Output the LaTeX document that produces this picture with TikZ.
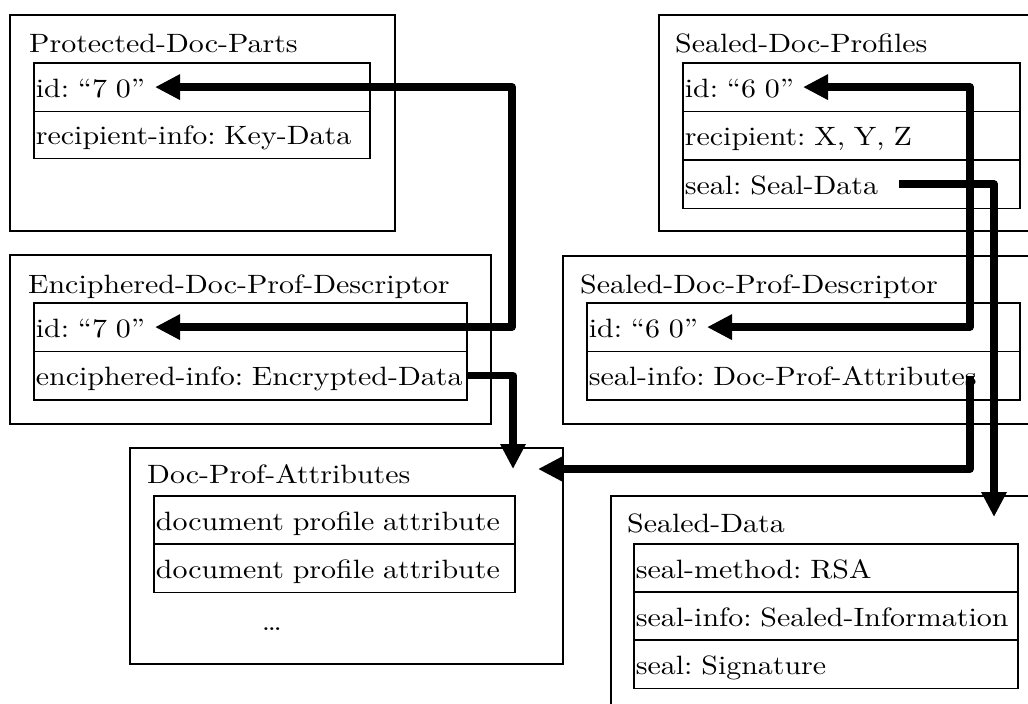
\documentclass[tikz,border=0pt]{standalone}
\usepackage{fontspec}
\usetikzlibrary{arrows.meta}
\newfontfamily\boxfont[FakeStretch=1.13]{lmroman10-regular.otf}

\tikzset{
  txt/.style={font=\boxfont\fontsize{26.5pt}{30pt}\selectfont\frenchspacing},
  frame/.style={draw, line width=1.7pt, rectangle, anchor=north west, inner sep=0pt},
  heading/.style={txt, anchor=base west, inner sep=0pt},
  field/.style={txt, draw, line width=1.7pt, rectangle, anchor=north west,
    inner xsep=2pt, inner ysep=0pt, text height=20pt, text depth=0pt,
    minimum height=48.5pt, align=left, text width=#1},
  link/.style={line width=7.5pt, line join=round, line cap=butt},
  head/.style={-{Triangle[length=25pt,width=24pt]}},
  heads/.style={{Triangle[length=25pt,width=24pt]}-{Triangle[length=25pt,width=24pt]}},
}

\begin{document}
\begin{tikzpicture}[x=1pt,y=-1pt]
\useasboundingbox (0,0) rectangle (1028,704);
\fill[white] (0,0) rectangle (1028,704);
\clip (0,0) rectangle (1028,704);

% Protected-Doc-Parts
\node[frame, minimum width=385pt, minimum height=216pt] (pdp) at (9,14) {};
\node[heading] (pdpT) at (29,52) {Protected-Doc-Parts};
\node[field=332pt] (idA) at (33,62) {id: “7 0”};
\node[field=332pt, minimum height=47pt] (keyA) at (33,110.5) {recipient-info: Key-Data};

% Sealed-Doc-Profiles
\node[frame, minimum width=400pt, minimum height=216pt] (sdp) at (658,14) {};
\node[heading] (sdpT) at (675,52) {Sealed-Doc-Profiles};
\node[field=333pt] (idB) at (682,62) {id: “6 0”};
\node[field=333pt] (recB) at (682,110.5) {recipient: X, Y, Z};
\node[field=333pt] (sealB) at (682,159) {seal: Seal-Data};

% Enciphered-Doc-Prof-Descriptor
\node[frame, minimum width=481pt, minimum height=169pt] (edpd) at (9,254) {};
\node[heading] (edpdT) at (28,293) {Enciphered-Doc-Prof-Descriptor};
\node[field=429pt] (idC) at (33,302) {id: “7 0”};
\node[field=429pt] (encC) at (33,350.5) {enciphered-info: Encrypted-Data};

% Sealed-Doc-Prof-Descriptor
\node[frame, minimum width=500pt, minimum height=168pt] (sdpd) at (562,255) {};
\node[heading] (sdpdT) at (580,293) {Sealed-Doc-Prof-Descriptor};
\node[field=429pt] (idD) at (586,302) {id: “6 0”};
\node[field=429pt] (sinfoD) at (586,350.5) {seal-info: Doc-Prof-Attributes};

% Doc-Prof-Attributes
\node[frame, minimum width=433pt, minimum height=216pt] (dpa) at (129,447) {};
\node[heading] (dpaT) at (147,483) {Doc-Prof-Attributes};
\node[field=357pt] (attr1) at (153,495) {document profile attribute};
\node[field=357pt] (attr2) at (153,543) {document profile attribute};
\node[txt, anchor=base, inner sep=0pt] (more) at (272,630) {…};

% Sealed-Data
\node[frame, minimum width=450pt, minimum height=260pt] (sd) at (610,495) {};
\node[heading] (sdT) at (627,532) {Sealed-Data};
\node[field=380pt] (methF) at (633,543) {seal-method: RSA};
\node[field=380pt] (infoF) at (633,591) {seal-info: Sealed-Information};
\node[field=380pt] (sigF) at (633,639) {seal: Signature};

% connector end points and bends
\coordinate (tA) at (idA.west -| 155,0);
\coordinate (tC) at (idC.west -| 155,0);
\coordinate (busL) at (512,200);
\coordinate (tB) at (idB.west -| 803,0);
\coordinate (tD) at (idD.west -| 707,0);
\coordinate (busR) at (970,200);
\coordinate (tE1) at (513,469);
\coordinate (sD) at (sinfoD.east -| 970,0);
\coordinate (tE2) at (538,469);
\coordinate (sB) at (sealB.west -| 899,0);
\coordinate (tF) at (994,517);

% links
\draw[link, heads] (tA) -| (busL) |- (tC);
\draw[link, heads] (tB) -| (busR) |- (tD);
\draw[link, head] (encC.east) -| (tE1);
\draw[link, head] (sD) |- (tE2);
\draw[link, head] (sB) -| (tF);
\end{tikzpicture}
\end{document}
